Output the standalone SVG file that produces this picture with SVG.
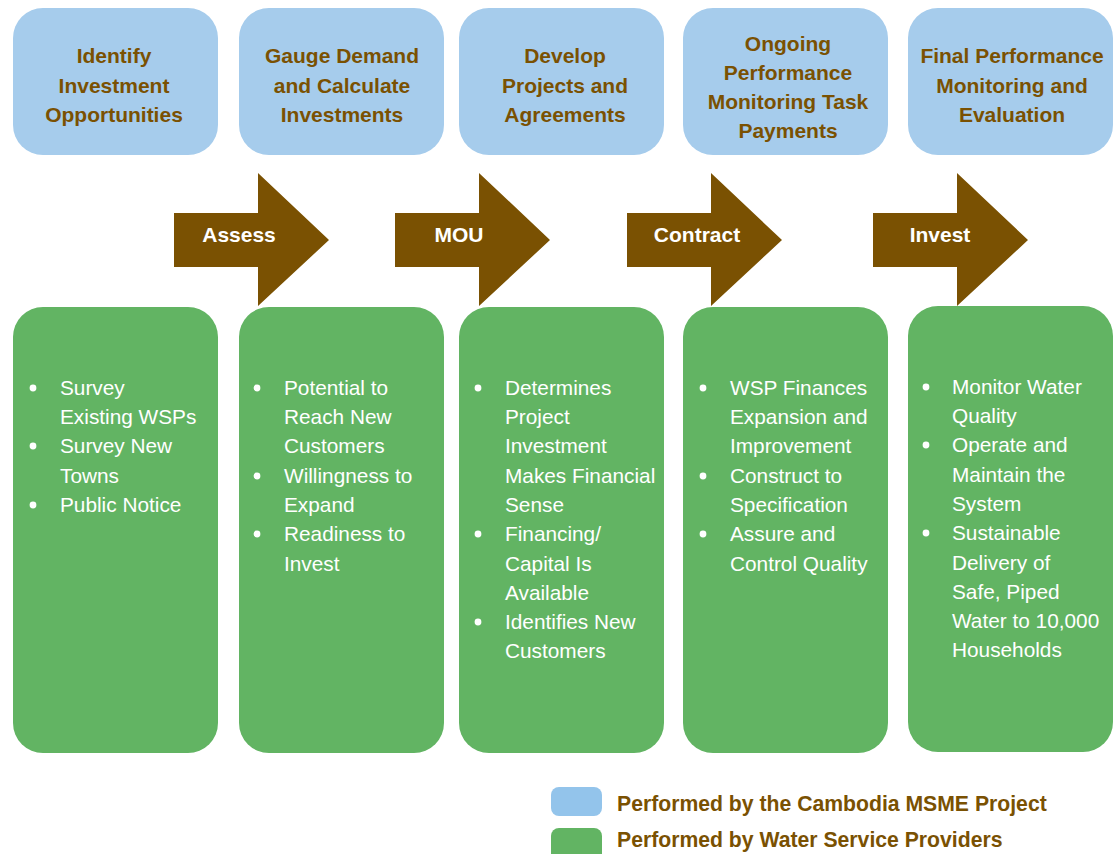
<svg xmlns="http://www.w3.org/2000/svg" width="1120" height="854" viewBox="0 0 1120 854">
  <style>
    .stage { fill: #A6CCEC; }
    .task { fill: #62B463; }
    .arrow { fill: #7A5102; }
    .title { font-family: "Liberation Sans", Arial, sans-serif; font-size: 21px; font-weight: bold; fill: #7A5102; text-anchor: middle; }
    .step { font-family: "Liberation Sans", Arial, sans-serif; font-size: 21px; font-weight: bold; fill: #FFFFFF; text-anchor: middle; }
    .item { font-family: "Liberation Sans", Arial, sans-serif; font-size: 20.8px; fill: #FFFFFF; }
    .bullet { fill: #FFFFFF; }
    .legend { font-family: "Liberation Sans", Arial, sans-serif; font-size: 21.2px; font-weight: bold; fill: #7A5102; }
  </style>
  <defs>
    <!-- block arrow: shaft 84 wide, head 71 long -->
    <polygon id="blockArrow" points="0,40 84,40 84,0 155,67 84,133 84,94 0,94"/>
  </defs>
  <rect width="1120" height="854" fill="#FFFFFF"/>

  <!-- stage headings -->
  <g id="stage-identify">
    <rect class="stage" x="13" y="8" width="205" height="147" rx="30"/>
    <text class="title" x="114" y="63">Identify</text>
    <text class="title" x="114" y="93">Investment</text>
    <text class="title" x="114" y="122">Opportunities</text>
  </g>
  <g id="stage-gauge">
    <rect class="stage" x="239" y="8" width="205" height="147" rx="30"/>
    <text class="title" x="342" y="63">Gauge Demand</text>
    <text class="title" x="342" y="93">and Calculate</text>
    <text class="title" x="342" y="122">Investments</text>
  </g>
  <g id="stage-develop">
    <rect class="stage" x="459" y="8" width="205" height="147" rx="30"/>
    <text class="title" x="565" y="63">Develop</text>
    <text class="title" x="565" y="93">Projects and</text>
    <text class="title" x="565" y="122">Agreements</text>
  </g>
  <g id="stage-ongoing">
    <rect class="stage" x="683" y="8" width="205" height="147" rx="30"/>
    <text class="title" x="788" y="51">Ongoing</text>
    <text class="title" x="788" y="80">Performance</text>
    <text class="title" x="788" y="109">Monitoring Task</text>
    <text class="title" x="788" y="138">Payments</text>
  </g>
  <g id="stage-final">
    <rect class="stage" x="908" y="8" width="205" height="147" rx="30"/>
    <text class="title" x="1012" y="63">Final Performance</text>
    <text class="title" x="1012" y="93">Monitoring and</text>
    <text class="title" x="1012" y="122">Evaluation</text>
  </g>

  <!-- transitions between stages -->
  <g id="connectors">
    <g id="arrow-assess">
      <use href="#blockArrow" class="arrow" x="174" y="173"/>
      <text class="step" x="239" y="242">Assess</text>
    </g>
    <g id="arrow-mou">
      <use href="#blockArrow" class="arrow" x="395" y="173"/>
      <text class="step" x="459" y="242">MOU</text>
    </g>
    <g id="arrow-contract">
      <use href="#blockArrow" class="arrow" x="627" y="173"/>
      <text class="step" x="697" y="242">Contract</text>
    </g>
    <g id="arrow-invest">
      <use href="#blockArrow" class="arrow" x="873" y="173"/>
      <text class="step" x="940" y="242">Invest</text>
    </g>
  </g>

  <!-- activity lists -->
  <g id="tasks-identify">
    <rect class="task" x="13" y="307" width="205" height="446" rx="30"/>
    <circle class="bullet" cx="33" cy="388" r="3.4"/>
    <circle class="bullet" cx="33" cy="446" r="3.4"/>
    <circle class="bullet" cx="33" cy="505" r="3.4"/>
    <text class="item" x="60" y="395">Survey</text>
    <text class="item" x="60" y="424">Existing WSPs</text>
    <text class="item" x="60" y="453">Survey New</text>
    <text class="item" x="60" y="483">Towns</text>
    <text class="item" x="60" y="512">Public Notice</text>
  </g>
  <g id="tasks-gauge">
    <rect class="task" x="239" y="307" width="205" height="446" rx="30"/>
    <circle class="bullet" cx="257" cy="388" r="3.4"/>
    <circle class="bullet" cx="257" cy="476" r="3.4"/>
    <circle class="bullet" cx="257" cy="534" r="3.4"/>
    <text class="item" x="284" y="395">Potential to</text>
    <text class="item" x="284" y="424">Reach New</text>
    <text class="item" x="284" y="453">Customers</text>
    <text class="item" x="284" y="483">Willingness to</text>
    <text class="item" x="284" y="512">Expand</text>
    <text class="item" x="284" y="541">Readiness to</text>
    <text class="item" x="284" y="571">Invest</text>
  </g>
  <g id="tasks-develop">
    <rect class="task" x="459" y="307" width="205" height="446" rx="30"/>
    <circle class="bullet" cx="478" cy="388" r="3.4"/>
    <circle class="bullet" cx="478" cy="534" r="3.4"/>
    <circle class="bullet" cx="478" cy="622" r="3.4"/>
    <text class="item" x="505" y="395">Determines</text>
    <text class="item" x="505" y="424">Project</text>
    <text class="item" x="505" y="453">Investment</text>
    <text class="item" x="505" y="483">Makes Financial</text>
    <text class="item" x="505" y="512">Sense</text>
    <text class="item" x="505" y="541">Financing/</text>
    <text class="item" x="505" y="571">Capital Is</text>
    <text class="item" x="505" y="600">Available</text>
    <text class="item" x="505" y="629">Identifies New</text>
    <text class="item" x="505" y="658">Customers</text>
  </g>
  <g id="tasks-ongoing">
    <rect class="task" x="683" y="307" width="205" height="446" rx="30"/>
    <circle class="bullet" cx="703" cy="388" r="3.4"/>
    <circle class="bullet" cx="703" cy="476" r="3.4"/>
    <circle class="bullet" cx="703" cy="534" r="3.4"/>
    <text class="item" x="730" y="395">WSP Finances</text>
    <text class="item" x="730" y="424">Expansion and</text>
    <text class="item" x="730" y="453">Improvement</text>
    <text class="item" x="730" y="483">Construct to</text>
    <text class="item" x="730" y="512">Specification</text>
    <text class="item" x="730" y="541">Assure and</text>
    <text class="item" x="730" y="571">Control Quality</text>
  </g>
  <g id="tasks-final">
    <rect class="task" x="908" y="306" width="205" height="446" rx="30"/>
    <circle class="bullet" cx="926" cy="387" r="3.4"/>
    <circle class="bullet" cx="926" cy="445" r="3.4"/>
    <circle class="bullet" cx="926" cy="533" r="3.4"/>
    <text class="item" x="952" y="394">Monitor Water</text>
    <text class="item" x="952" y="423">Quality</text>
    <text class="item" x="952" y="452">Operate and</text>
    <text class="item" x="952" y="482">Maintain the</text>
    <text class="item" x="952" y="511">System</text>
    <text class="item" x="952" y="540">Sustainable</text>
    <text class="item" x="952" y="570">Delivery of</text>
    <text class="item" x="952" y="599">Safe, Piped</text>
    <text class="item" x="952" y="628">Water to 10,000</text>
    <text class="item" x="952" y="657">Households</text>
  </g>

  <!-- key -->
  <g id="legend">
    <rect x="551" y="787" width="51" height="29" rx="8" fill="#93C4EB"/>
    <text class="legend" x="617" y="811">Performed by the Cambodia MSME Project</text>
    <rect x="551" y="828" width="51" height="36" rx="8" fill="#62B463"/>
    <text class="legend" x="617" y="847">Performed by Water Service Providers</text>
  </g>
</svg>
